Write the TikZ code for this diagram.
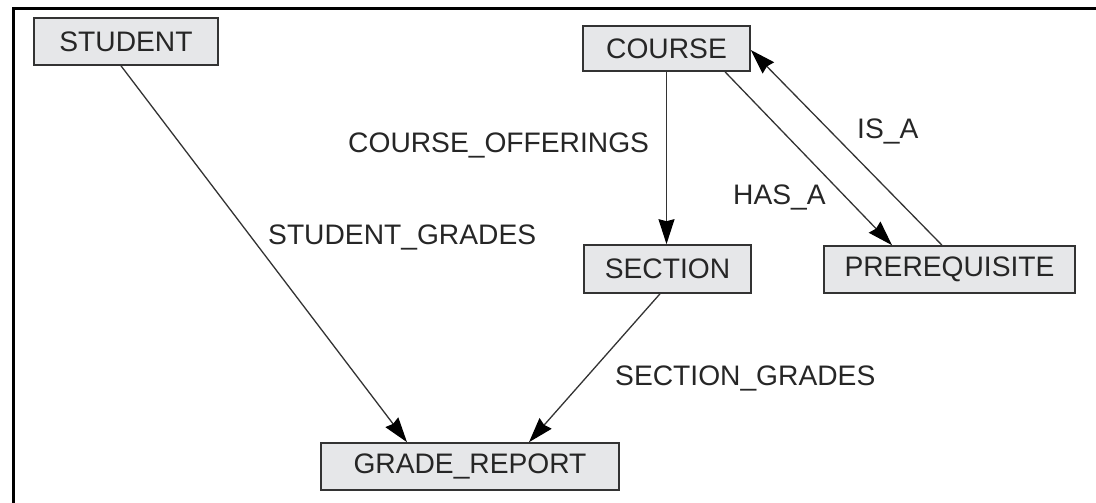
\documentclass[tikz,border=0pt]{standalone}
\usepackage{fontspec}
\setmainfont{Liberation Sans}
\usetikzlibrary{arrows.meta,calc}
\definecolor{boxfill}{HTML}{E6E7E9}
\definecolor{boxline}{HTML}{333333}
\begin{document}
\begin{tikzpicture}[x=1pt,y=-1pt,
  entity/.style={draw=boxline,fill=boxfill,line width=1.6pt,inner sep=0pt,
    font=\fontsize{28.2}{34}\selectfont,text=black!85},
  lbl/.style={anchor=base west,inner sep=0pt,font=\fontsize{28.2}{34}\selectfont,text=black!85},
  conn/.style={draw=boxline,line width=1.3pt,-{Stealth[length=25pt,width=16pt,inset=2pt,color=black]}}]
\useasboundingbox (0,0) rectangle (1096,503);
\draw[line width=3pt] (13,503) -- (13,9) -- (1096,9);
\node[entity,minimum width=184pt,minimum height=47pt] (student) at (126,41.5) {STUDENT};
\node[entity,minimum width=167pt,minimum height=45pt] (course) at (666.5,48.5) {COURSE};
\node[entity,minimum width=167pt,minimum height=48pt] (section) at (667.5,269) {SECTION};
\node[entity,minimum width=251pt,minimum height=47pt] (prereq) at (949.5,269.5) {PREREQUISITE};
\node[entity,minimum width=298pt,minimum height=47pt] (grade) at (470,466.5) {GRADE\_REPORT};
\draw[conn] ([xshift=-5pt]student.south) -- ([xshift=-63pt]grade.north);
\draw[conn] ([xshift=-7.5pt]section.south) -- ([xshift=59pt]grade.north);
\draw[conn] (course.south) -- (course.south |- section.north);
\draw[conn] ([xshift=58.5pt]course.south) -- ([xshift=-57.5pt]prereq.north);
\draw[conn] ([xshift=-7.5pt]prereq.north) -- ([yshift=-1.5pt]course.east);
\node[lbl] (lco) at (348,152) {COURSE\_OFFERINGS};
\node[lbl] (lsg) at (268,244) {STUDENT\_GRADES};
\node[lbl] (lsec) at (615,385) {SECTION\_GRADES};
\node[lbl] (lisa) at (857,139) {IS\_A};
\node[lbl] (lhas) at (733,204) {HAS\_A};
\end{tikzpicture}
\end{document}
